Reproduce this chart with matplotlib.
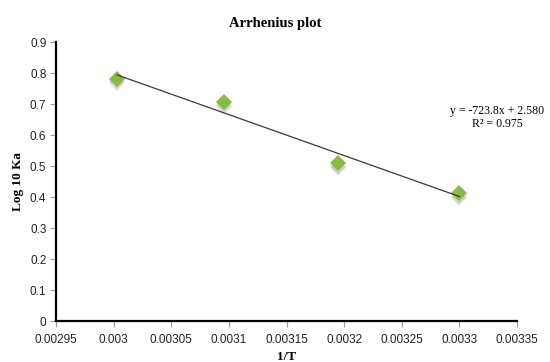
import numpy as np
import matplotlib.pyplot as plt
from matplotlib.transforms import offset_copy


# Arrhenius data: 1/T (K^-1) against log10 Ka

inv_T = [0.003003, 0.003096, 0.003195, 0.0033]
log_Ka = [0.782, 0.707, 0.509, 0.412]

x_ticks = [0.00295, 0.003, 0.00305, 0.0031, 0.00315,
           0.0032, 0.00325, 0.0033, 0.00335]
x_tick_labels = ["0.00295", "0.003", "0.00305", "0.0031", "0.00315",
                 "0.0032", "0.00325", "0.0033", "0.00335"]
y_ticks = [0, 0.1, 0.2, 0.3, 0.4, 0.5, 0.6, 0.7, 0.8, 0.9]
y_tick_labels = ["0", "0.1", "0.2", "0.3", "0.4",
                 "0.5", "0.6", "0.7", "0.8", "0.9"]

equation_text = "y = -723.8x + 2.580\nR\u00b2 = 0.975"

serif = ["Liberation Serif", "DejaVu Serif"]
narrow = ["Liberation Sans Narrow", "Liberation Sans", "DejaVu Sans"]


# Linear trendline through the points

slope, intercept = np.polyfit(inv_T, log_Ka, 1)
x_fit = np.array([min(inv_T), max(inv_T)])
y_fit = slope * x_fit + intercept


fig = plt.figure(figsize=(5.5, 3.62), dpi=100)
ax = fig.add_axes([0.102, 0.113, 0.838, 0.77])

# soft drop shadow under the markers
for dy, a in [(-1.5, 0.18), (-2.5, 0.18), (-3.5, 0.12)]:
    shadow = offset_copy(ax.transData, fig=fig, x=0, y=dy, units="points")
    ax.plot(inv_T, log_Ka, "D", markersize=8.5, color="#8a8a8a",
            alpha=a, markeredgewidth=0, transform=shadow, zorder=2)

ax.plot(inv_T, log_Ka, "D", markersize=8.5, color="#8cb944",
        markeredgewidth=0, zorder=3)

ax.plot(x_fit, y_fit, color="#3a3a3a", linewidth=0.9, zorder=4)

ax.set_xlim(0.00295, 0.00335)
ax.set_ylim(0, 0.9)

ax.set_xticks(x_ticks)
ax.set_xticklabels(x_tick_labels, family=narrow, fontsize=8.5)
ax.set_yticks(y_ticks)
ax.set_yticklabels(y_tick_labels, family=narrow, fontsize=8.5)

ax.tick_params(axis="both", color="#a0a0a0", length=4, width=0.8,
               labelcolor="#222222")
ax.tick_params(axis="x", pad=5)
ax.tick_params(axis="y", pad=3)

for side in ["top", "right"]:
    ax.spines[side].set_visible(False)
for side in ["left", "bottom"]:
    ax.spines[side].set_linewidth(1.6)
    ax.spines[side].set_color("black")

fig.text(0.5, 0.934, "Arrhenius plot", family=serif, fontweight="bold",
         fontsize=10.5, ha="center", va="center")
ax.set_xlabel("1/T", family=serif, fontweight="bold", fontsize=9.5,
              labelpad=4)
ax.set_ylabel("Log 10 Ka", family=serif, fontweight="bold", fontsize=9.5,
              labelpad=4)

ax.text(0.003333, 0.657, equation_text, family=serif, fontsize=8.5,
        ha="center", va="center", linespacing=1.1)

fig.savefig("out.png", dpi=100)
